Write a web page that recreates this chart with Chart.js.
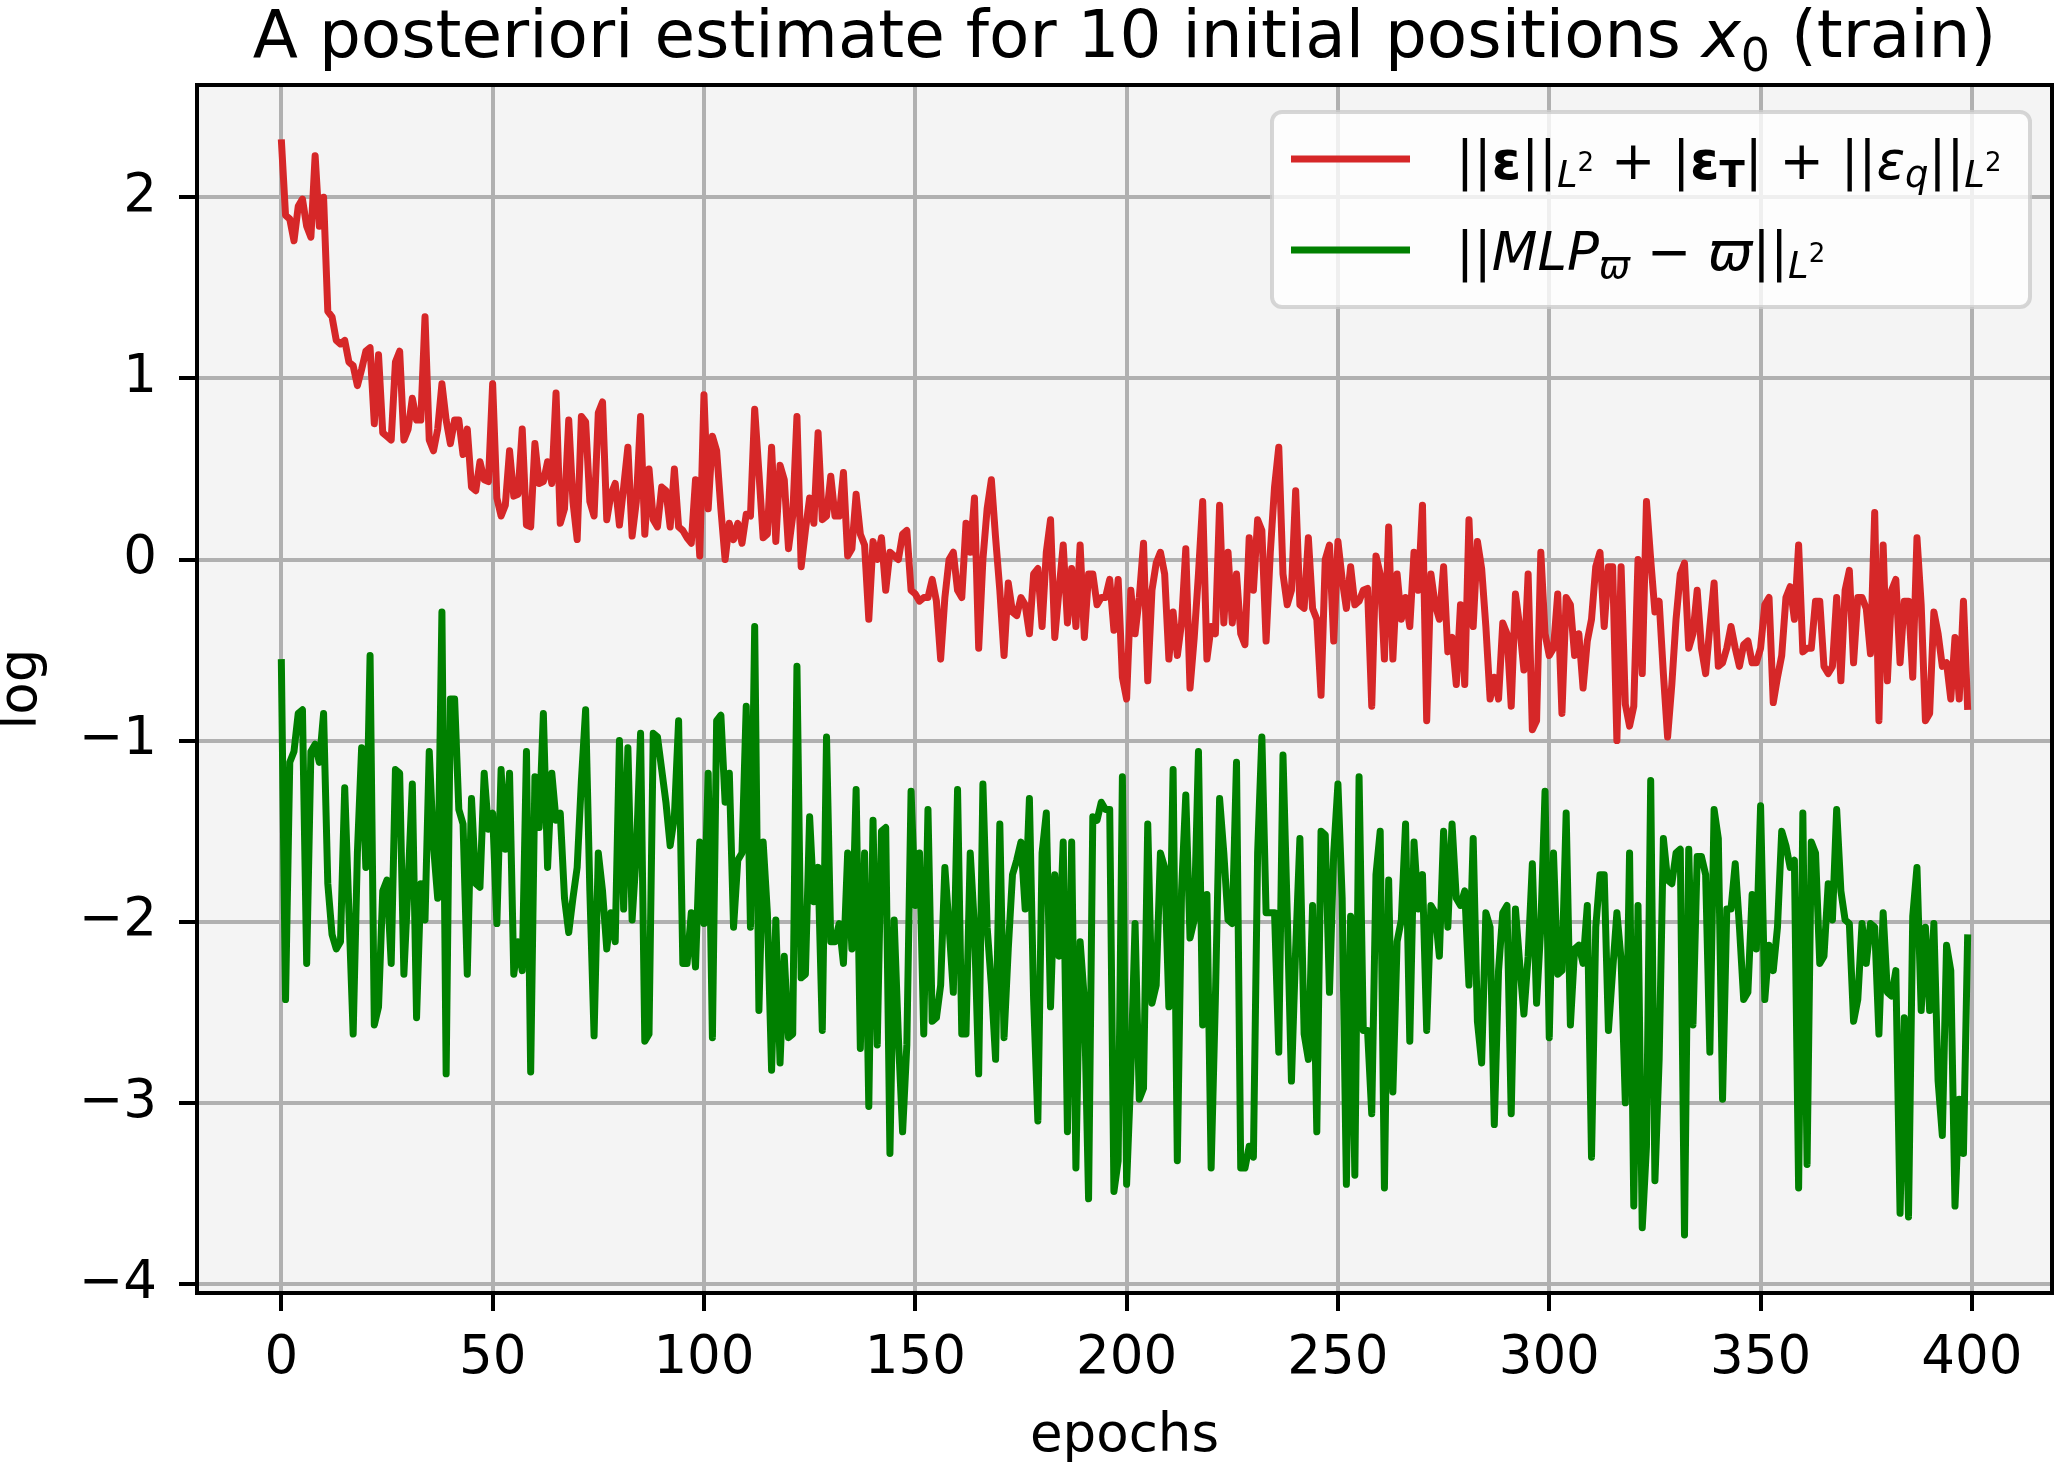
<!DOCTYPE html>
<html>
<head>
<meta charset="utf-8">
<script src="https://cdn.jsdelivr.net/npm/chart.js@4.4.1/dist/chart.umd.min.js"></script>
<style>
  body { margin: 0; background: #fff; }
  canvas { display: block; }
</style>
</head>
<body>
<canvas id="myCanvas" width="2056" height="1462"></canvas>
<script>
const epochs = Array.from({ length: 400 }, (_, i) => i);

// ||eps||_L2 + |eps_T| + ||eps_q||_L2  (log)
const errorSum = [
  2.32, 1.90, 1.88, 1.76, 1.95, 1.99, 1.84, 1.78, 2.23, 1.84,
  2.00, 1.37, 1.34, 1.21, 1.19, 1.21, 1.09, 1.07, 0.96, 1.05,
  1.15, 1.17, 0.75, 1.13, 0.70, 0.68, 0.66, 1.09, 1.15, 0.66,
  0.72, 0.89, 0.77, 0.77, 1.34, 0.66, 0.60, 0.72, 0.97, 0.77,
  0.64, 0.77, 0.77, 0.58, 0.72, 0.40, 0.38, 0.54, 0.44, 0.43,
  0.97, 0.34, 0.24, 0.30, 0.60, 0.35, 0.36, 0.72, 0.19, 0.18,
  0.64, 0.42, 0.43, 0.54, 0.42, 0.92, 0.20, 0.28, 0.77, 0.32,
  0.11, 0.79, 0.76, 0.32, 0.24, 0.81, 0.87, 0.22, 0.36, 0.42,
  0.19, 0.40, 0.62, 0.13, 0.32, 0.79, 0.14, 0.50, 0.22, 0.18,
  0.40, 0.38, 0.18, 0.50, 0.18, 0.16, 0.12, 0.09, 0.44, 0.02,
  0.91, 0.28, 0.68, 0.60, 0.28, 0.00, 0.20, 0.11, 0.20, 0.09,
  0.25, 0.24, 0.83, 0.48, 0.12, 0.14, 0.62, 0.10, 0.52, 0.44,
  0.06, 0.24, 0.79, -0.04, 0.16, 0.34, 0.20, 0.70, 0.22, 0.24,
  0.46, 0.24, 0.24, 0.48, 0.02, 0.06, 0.36, 0.14, 0.08, -0.33,
  0.10, 0.00, 0.12, -0.17, 0.04, 0.02, 0.00, 0.14, 0.16, -0.17,
  -0.19, -0.23, -0.21, -0.21, -0.11, -0.23, -0.55, -0.21, 0.00, 0.04,
  -0.17, -0.21, 0.20, 0.04, 0.34, -0.49, 0.00, 0.28, 0.44, 0.12,
  -0.17, -0.53, -0.13, -0.29, -0.31, -0.21, -0.25, -0.41, -0.08, -0.05,
  -0.37, 0.04, 0.22, -0.43, -0.17, 0.08, -0.35, -0.05, -0.37, 0.08,
  -0.43, -0.08, -0.08, -0.25, -0.21, -0.21, -0.11, -0.39, -0.11, -0.65,
  -0.77, -0.17, -0.41, -0.21, 0.09, -0.67, -0.17, -0.02, 0.04, -0.08,
  -0.55, -0.29, -0.53, -0.35, 0.06, -0.71, -0.43, -0.08, 0.32, -0.55,
  -0.37, -0.41, 0.30, -0.35, 0.04, -0.35, -0.08, -0.41, -0.47, 0.12,
  -0.17, 0.22, 0.16, -0.45, 0.04, 0.40, 0.62, -0.08, -0.25, -0.17,
  0.38, -0.25, -0.27, 0.12, -0.27, -0.33, -0.75, 0.00, 0.08, -0.45,
  0.10, -0.11, -0.27, -0.04, -0.25, -0.23, -0.17, -0.16, -0.81, 0.02,
  -0.08, -0.55, 0.18, -0.55, -0.08, -0.33, -0.21, -0.37, 0.04, -0.17,
  0.30, -0.89, -0.08, -0.25, -0.33, -0.04, -0.51, -0.43, -0.69, -0.25,
  -0.69, 0.22, -0.37, 0.10, -0.05, -0.37, -0.77, -0.65, -0.77, -0.35,
  -0.41, -0.81, -0.19, -0.37, -0.61, -0.08, -0.94, -0.89, 0.04, -0.41,
  -0.53, -0.49, -0.19, -0.85, -0.21, -0.25, -0.53, -0.41, -0.71, -0.45,
  -0.33, -0.04, 0.04, -0.37, -0.04, -0.04, -1.00, -0.04, -0.80, -0.92,
  -0.81, 0.00, -0.63, 0.32, 0.00, -0.29, -0.23, -0.63, -0.98, -0.69,
  -0.33, -0.08, -0.02, -0.49, -0.41, -0.17, -0.49, -0.63, -0.37, -0.13,
  -0.59, -0.57, -0.49, -0.37, -0.49, -0.59, -0.47, -0.45, -0.57, -0.57,
  -0.49, -0.25, -0.21, -0.79, -0.65, -0.53, -0.21, -0.15, -0.33, 0.08,
  -0.51, -0.49, -0.49, -0.23, -0.23, -0.59, -0.63, -0.59, -0.21, -0.67,
  -0.17, -0.06, -0.57, -0.21, -0.21, -0.27, -0.52, 0.26, -0.89, 0.08,
  -0.67, -0.17, -0.11, -0.57, -0.23, -0.23, -0.65, 0.12, -0.25, -0.89,
  -0.85, -0.29, -0.41, -0.59, -0.57, -0.77, -0.43, -0.77, -0.23, -0.83
];

// ||MLP_w - w||_L2  (log)
const mlpError = [
  -0.55, -2.43, -1.12, -1.06, -0.85, -0.83, -2.23, -1.06, -1.02, -1.12,
  -0.85, -1.79, -2.07, -2.15, -2.11, -1.26, -1.95, -2.62, -1.62, -1.04,
  -1.70, -0.53, -2.57, -2.47, -1.83, -1.77, -2.23, -1.16, -1.18, -2.29,
  -1.79, -1.24, -2.53, -1.79, -1.99, -1.06, -1.58, -1.87, -0.29, -2.84,
  -0.77, -0.77, -1.38, -1.46, -2.29, -1.32, -1.79, -1.81, -1.18, -1.49,
  -1.40, -2.01, -1.16, -1.60, -1.18, -2.29, -2.11, -2.27, -1.06, -2.83,
  -1.20, -1.48, -0.85, -1.70, -1.18, -1.44, -1.40, -1.87, -2.06, -1.87,
  -1.70, -1.22, -0.83, -1.83, -2.63, -1.62, -1.83, -2.15, -1.95, -2.11,
  -1.00, -1.93, -1.04, -1.99, -1.62, -0.96, -2.66, -2.62, -0.96, -0.98,
  -1.16, -1.34, -1.58, -1.42, -0.89, -2.23, -2.23, -1.95, -2.25, -1.56,
  -2.01, -1.18, -2.64, -0.89, -0.86, -1.34, -1.18, -2.03, -1.66, -1.62,
  -0.81, -2.03, -0.37, -2.49, -1.56, -1.95, -2.82, -1.99, -2.78, -2.19,
  -2.64, -2.62, -0.59, -2.31, -2.29, -1.42, -1.89, -1.70, -2.60, -0.98,
  -2.11, -2.11, -2.01, -2.23, -1.62, -2.15, -1.27, -2.70, -1.62, -3.02,
  -1.44, -2.68, -1.50, -1.48, -3.28, -1.99, -2.64, -3.16, -2.68, -1.28,
  -1.91, -1.62, -2.62, -1.38, -2.55, -2.53, -2.35, -1.70, -2.03, -2.39,
  -1.27, -2.62, -2.62, -1.62, -2.03, -2.84, -1.24, -2.03, -2.35, -2.76,
  -1.46, -2.64, -2.15, -1.74, -1.66, -1.56, -1.93, -1.32, -2.43, -3.10,
  -1.62, -1.40, -2.47, -1.74, -2.19, -1.56, -3.16, -1.56, -3.36, -2.11,
  -2.43, -3.53, -1.42, -1.44, -1.34, -1.38, -1.38, -3.49, -3.32, -1.20,
  -3.45, -2.84, -2.01, -2.98, -2.92, -1.46, -2.45, -2.35, -1.62, -1.70,
  -2.47, -1.16, -3.32, -1.83, -1.30, -2.09, -1.99, -1.06, -2.57, -1.85,
  -3.36, -2.43, -1.32, -1.62, -1.99, -2.01, -1.12, -3.36, -3.36, -3.24,
  -3.30, -1.62, -0.98, -1.95, -1.95, -1.95, -2.72, -1.08, -1.95, -2.88,
  -2.15, -1.54, -2.62, -2.76, -1.91, -3.16, -1.50, -1.52, -2.39, -1.62,
  -1.24, -1.87, -3.45, -1.97, -3.40, -1.20, -2.60, -2.60, -3.06, -1.74,
  -1.50, -3.47, -1.77, -2.94, -2.11, -1.99, -1.46, -2.66, -1.56, -1.93,
  -1.74, -2.60, -1.91, -1.95, -2.19, -1.50, -2.03, -1.46, -1.87, -1.91,
  -1.83, -2.35, -1.54, -2.55, -2.78, -1.95, -2.03, -3.12, -2.27, -1.95,
  -1.91, -3.06, -1.93, -2.23, -2.51, -2.19, -1.68, -2.45, -2.03, -1.28,
  -2.64, -1.62, -2.29, -2.27, -1.40, -2.57, -2.15, -2.13, -2.23, -1.91,
  -3.30, -2.03, -1.74, -1.74, -2.60, -2.27, -1.95, -2.21, -3.00, -1.62,
  -3.57, -1.91, -3.69, -3.24, -1.22, -3.43, -2.76, -1.54, -1.77, -1.79,
  -1.62, -1.60, -3.73, -1.60, -2.57, -1.64, -1.64, -1.74, -2.72, -1.38,
  -1.54, -2.98, -1.93, -1.93, -1.68, -2.03, -2.43, -2.39, -1.85, -2.15,
  -1.36, -2.43, -2.13, -2.27, -2.03, -1.50, -1.58, -1.70, -1.66, -3.47,
  -1.40, -3.34, -1.56, -1.62, -2.23, -2.19, -1.79, -1.99, -1.38, -1.83,
  -1.99, -2.01, -2.55, -2.43, -2.01, -2.23, -2.01, -2.03, -2.62, -1.95,
  -2.39, -2.41, -2.27, -3.61, -2.53, -3.63, -1.97, -1.70, -2.49, -2.03,
  -2.49, -2.01, -2.88, -3.18, -2.13, -2.27, -3.57, -2.98, -3.28, -2.07
];

const xTicks = [0, 50, 100, 150, 200, 250, 300, 350, 400];
const yTicks = [-4, -3, -2, -1, 0, 1, 2];

const FAM = '"DejaVu Sans"';
const RED = "#d62728";
const GREEN = "#008000";

function richWidth(ctx, parts) {
  let w = 0;
  parts.forEach((p) => {
    ctx.font = p.f;
    w += ctx.measureText(p.t).width;
  });
  return w;
}

function drawRich(ctx, x, y, parts) {
  parts.forEach((p) => {
    ctx.font = p.f;
    ctx.fillText(p.t, x, y + (p.dy || 0));
    x += ctx.measureText(p.t).width;
  });
}

const R = `53px ${FAM}`;
const B = `bold 53px ${FAM}`;
const I = `italic 53px ${FAM}`;
const IS = `italic 37px ${FAM}`;
const BS = `bold 37px ${FAM}`;
const S2 = `26px ${FAM}`;

const titleParts = [
  { t: "A posteriori estimate for 10 initial positions ", f: `66px ${FAM}` },
  { t: "x", f: `italic 66px ${FAM}` },
  { t: "0", f: `46px ${FAM}`, dy: 14 },
  { t: " (train)", f: `66px ${FAM}` },
];

const legendRows = [
  {
    color: RED,
    parts: [
      { t: "||", f: R }, { t: "ε", f: B }, { t: "||", f: R },
      { t: "L", f: IS, dy: 8 }, { t: "2", f: S2, dy: -8 },
      { t: " + |", f: R }, { t: "ε", f: B }, { t: "T", f: BS, dy: 8 },
      { t: "| + ||", f: R }, { t: "ε", f: I }, { t: "q", f: IS, dy: 8 },
      { t: "||", f: R }, { t: "L", f: IS, dy: 8 }, { t: "2", f: S2, dy: -8 },
    ],
  },
  {
    color: GREEN,
    parts: [
      { t: "||", f: R }, { t: "MLP", f: I }, { t: "ϖ", f: IS, dy: 8 },
      { t: " − ", f: R }, { t: "ϖ", f: I }, { t: "||", f: R },
      { t: "L", f: IS, dy: 8 }, { t: "2", f: S2, dy: -8 },
    ],
  },
];

const decorPlugin = {
  id: "decor",
  beforeDraw(chart) {
    const { ctx, chartArea: a } = chart;
    ctx.save();
    ctx.fillStyle = "#f4f4f4";
    ctx.fillRect(a.left, a.top, a.right - a.left, a.bottom - a.top);
    ctx.restore();
  },
  afterDatasetsDraw(chart) {
    const { ctx, chartArea: a } = chart;
    ctx.save();
    ctx.strokeStyle = "#000";
    ctx.lineWidth = 4;
    ctx.strokeRect(a.left, a.top, a.right - a.left, a.bottom - a.top);
    ctx.restore();
  },
  afterDraw(chart) {
    const { ctx, chartArea: a } = chart;
    ctx.save();
    ctx.fillStyle = "#000";
    ctx.textBaseline = "alphabetic";
    ctx.textAlign = "left";
    const tw = richWidth(ctx, titleParts);
    drawRich(ctx, (a.left + a.right) / 2 - tw / 2, 57, titleParts);

    // legend box
    ctx.beginPath();
    ctx.roundRect(1272, 112, 758, 195, 10);
    ctx.fillStyle = "rgba(255,255,255,0.8)";
    ctx.fill();
    ctx.lineWidth = 4;
    ctx.strokeStyle = "rgba(204,204,204,0.8)";
    ctx.stroke();

    legendRows.forEach((row, i) => {
      const yLine = 159 + i * 91;
      ctx.beginPath();
      ctx.moveTo(1291, yLine);
      ctx.lineTo(1410, yLine);
      ctx.strokeStyle = row.color;
      ctx.lineWidth = 7;
      ctx.stroke();
      ctx.fillStyle = "#000";
      drawRich(ctx, 1456, yLine + 20, row.parts);
    });
    ctx.restore();
  },
};

Chart.defaults.font.family = FAM;
Chart.defaults.color = "#000";

const canvas = document.querySelector("#myCanvas");

const config = {
  type: "line",
  data: {
    datasets: [
      {
        label: "errorSum",
        data: epochs.map((e, i) => ({ x: e, y: errorSum[i] })),
        borderColor: RED,
        borderWidth: 7,
        pointRadius: 0,
        tension: 0,
        borderJoinStyle: "round",
      },
      {
        label: "mlpError",
        data: epochs.map((e, i) => ({ x: e, y: mlpError[i] })),
        borderColor: GREEN,
        borderWidth: 7,
        pointRadius: 0,
        tension: 0,
        borderJoinStyle: "round",
      },
    ],
  },
  options: {
    responsive: false,
    animation: false,
    devicePixelRatio: 1,
    layout: { padding: { top: 85, right: 4, bottom: 0, left: 0 } },
    plugins: {
      legend: { display: false },
      title: { display: false },
      tooltip: { enabled: false },
    },
    scales: {
      x: {
        type: "linear",
        min: -19.95,
        max: 418.95,
        afterBuildTicks: (scale) => {
          scale.ticks = xTicks.map((v) => ({ value: v }));
        },
        afterFit: (scale) => {
          scale.height = 169;
        },
        border: { display: false },
        grid: { color: "#b0b0b0", lineWidth: 4, tickColor: "#000", tickWidth: 4, tickLength: 18 },
        ticks: {
          color: "#000",
          font: { size: 53 },
          padding: 16,
          maxRotation: 0,
          autoSkip: false,
          callback: (v) => String(v),
        },
        title: {
          display: true,
          text: "epochs",
          color: "#000",
          font: { size: 53, lineHeight: 0.9 },
          padding: { top: 0, bottom: 1 },
        },
      },
      y: {
        type: "linear",
        min: -4.05,
        max: 2.62,
        afterBuildTicks: (scale) => {
          scale.ticks = yTicks.map((v) => ({ value: v }));
        },
        afterFit: (scale) => {
          scale.width = 197;
        },
        border: { display: false },
        grid: { color: "#b0b0b0", lineWidth: 4, tickColor: "#000", tickWidth: 4, tickLength: 18 },
        ticks: {
          color: "#000",
          font: { size: 53 },
          padding: 22,
          autoSkip: false,
          callback: (v) => String(v).replace("-", "\u2212"),
        },
        title: {
          display: true,
          text: "log",
          color: "#000",
          font: { size: 53, lineHeight: 0.8 },
          padding: { top: 1, bottom: 0 },
        },
      },
    },
  },
  plugins: [decorPlugin],
};

const myChart = new Chart(canvas, config);
</script>
</body>
</html>
